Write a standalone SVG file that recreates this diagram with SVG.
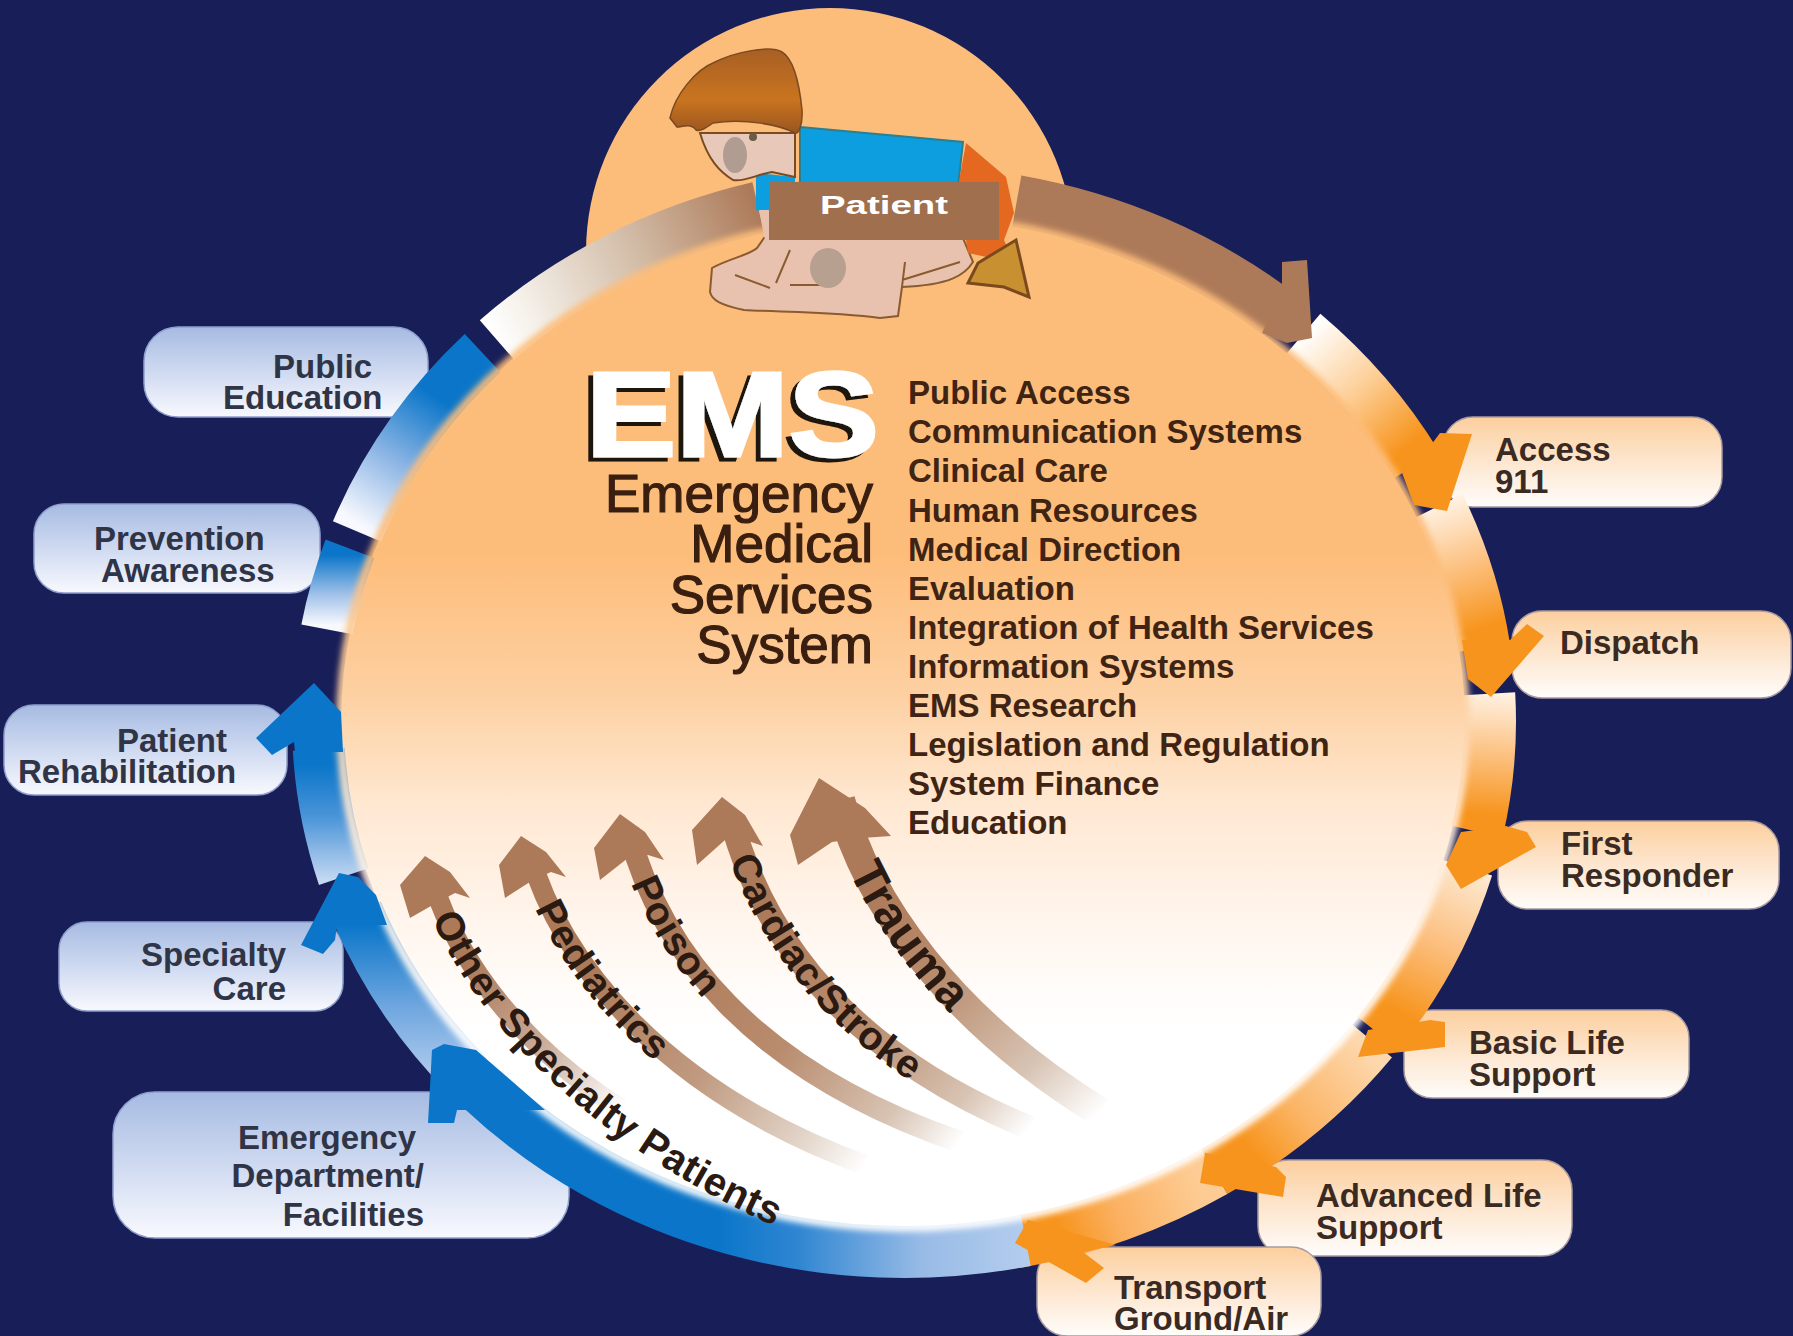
<svg xmlns="http://www.w3.org/2000/svg" width="1793" height="1336" viewBox="0 0 1793 1336">
<style>
text{font-family:"Liberation Sans",Arial,sans-serif;font-weight:bold}
.lb{font-size:33px;fill:#2f3446}
.lo{font-size:33px;fill:#3a2a22}
.li{font-size:33px;fill:#3f2413}
.big{font-size:53px;font-weight:normal;fill:#3a1f10;stroke:#3a1f10;stroke-width:1.2px;text-anchor:end}
.cur{fill:#2a1a12}
.band{fill:none;stroke-width:52}
.shaft{fill:none}
.or{fill:#f7941d}
.bl{fill:#0b76c9}
.br{fill:#ad7a59}
.boxo{fill:url(#boxOrange);stroke:#a89aa0;stroke-width:1.5}
.boxb{fill:url(#boxBlue);stroke:#8f9fcc;stroke-width:1.5}
</style>
<defs>
<filter id="soft" x="-5%" y="-5%" width="110%" height="110%"><feGaussianBlur stdDeviation="3"/></filter>
<filter id="emsShadow" x="-5%" y="-10%" width="110%" height="125%"><feDropShadow dx="-5" dy="4" stdDeviation="0" flood-color="#1a120c"/></filter>
<linearGradient id="boxOrange" x1="0" y1="0" x2="0" y2="1"><stop offset="0" stop-color="#fccf9e"/><stop offset=".5" stop-color="#fde6cf"/><stop offset="1" stop-color="#fffdfb"/></linearGradient>
<linearGradient id="boxBlue" x1="0" y1="0" x2="0" y2="1"><stop offset="0" stop-color="#a6bbe2"/><stop offset=".55" stop-color="#d3ddf2"/><stop offset="1" stop-color="#f8f9fe"/></linearGradient>
<linearGradient id="disk" gradientUnits="userSpaceOnUse" x1="0" y1="220" x2="0" y2="1230"><stop offset="0" stop-color="#fdbd7a"/><stop offset=".33" stop-color="#fdbd7a"/><stop offset=".47" stop-color="#fdd0a2"/><stop offset=".58" stop-color="#ffe8d2"/><stop offset=".7" stop-color="#fff6ee"/><stop offset=".8" stop-color="#fff"/><stop offset="1" stop-color="#fff"/></linearGradient>
<linearGradient id="s1" gradientUnits="userSpaceOnUse" x1="1304" y1="334" x2="1406" y2="448"><stop offset="0" stop-color="#fff"/><stop offset=".5" stop-color="#fdcf98"/><stop offset="1" stop-color="#f7941d"/></linearGradient>
<linearGradient id="s2" gradientUnits="userSpaceOnUse" x1="1439" y1="506" x2="1481" y2="629"><stop offset="0" stop-color="#fff0e0"/><stop offset=".5" stop-color="#fcc180"/><stop offset="1" stop-color="#f7941d"/></linearGradient>
<linearGradient id="s3" gradientUnits="userSpaceOnUse" x1="1489" y1="694" x2="1481" y2="814"><stop offset="0" stop-color="#fff0e0"/><stop offset=".5" stop-color="#fcc180"/><stop offset="1" stop-color="#f7941d"/></linearGradient>
<linearGradient id="s4" gradientUnits="userSpaceOnUse" x1="1467" y1="868" x2="1395" y2="1010"><stop offset="0" stop-color="#fde8d0"/><stop offset=".5" stop-color="#fcc080"/><stop offset="1" stop-color="#f7941d"/></linearGradient>
<linearGradient id="s5" gradientUnits="userSpaceOnUse" x1="1366" y1="1048" x2="1250" y2="1150"><stop offset="0" stop-color="#fdd8ae"/><stop offset=".6" stop-color="#fbb566"/><stop offset="1" stop-color="#f7941d"/></linearGradient>
<linearGradient id="s6" gradientUnits="userSpaceOnUse" x1="1197" y1="1181" x2="1060" y2="1232"><stop offset="0" stop-color="#fdcc94"/><stop offset=".6" stop-color="#fbb060"/><stop offset="1" stop-color="#f7941d"/></linearGradient>
<linearGradient id="b1" gradientUnits="userSpaceOnUse" x1="1030" y1="0" x2="720" y2="0"><stop offset="0" stop-color="#b4cdee"/><stop offset=".35" stop-color="#98bbe6"/><stop offset=".75" stop-color="#2f86d2"/><stop offset="1" stop-color="#0b76c9"/></linearGradient>
<linearGradient id="b2" gradientUnits="userSpaceOnUse" x1="0" y1="1080" x2="0" y2="925"><stop offset="0" stop-color="#b4cdee"/><stop offset=".5" stop-color="#6aa4de"/><stop offset="1" stop-color="#0b76c9"/></linearGradient>
<linearGradient id="b3" gradientUnits="userSpaceOnUse" x1="0" y1="880" x2="0" y2="765"><stop offset="0" stop-color="#c4d8f2"/><stop offset=".55" stop-color="#4a94d8"/><stop offset="1" stop-color="#0b76c9"/></linearGradient>
<linearGradient id="b4" gradientUnits="userSpaceOnUse" x1="0" y1="555" x2="0" y2="625"><stop offset="0" stop-color="#0b76c9"/><stop offset=".55" stop-color="#9dbfe8"/><stop offset="1" stop-color="#f8f9fe"/></linearGradient>
<linearGradient id="b5" gradientUnits="userSpaceOnUse" x1="360" y1="525" x2="440" y2="400"><stop offset="0" stop-color="#f8f9fe"/><stop offset=".5" stop-color="#8ab4e4"/><stop offset="1" stop-color="#0b76c9"/></linearGradient>
<linearGradient id="b6" gradientUnits="userSpaceOnUse" x1="497" y1="340" x2="758" y2="208"><stop offset="0" stop-color="#fff"/><stop offset=".15" stop-color="#f4efe8"/><stop offset=".55" stop-color="#d3bda8"/><stop offset="1" stop-color="#ad7a59"/></linearGradient>
<linearGradient id="f1" gradientUnits="userSpaceOnUse" x1="880" y1="880" x2="1100" y2="1112"><stop offset="0" stop-color="#ad7a59"/><stop offset=".35" stop-color="#b98c6e"/><stop offset=".75" stop-color="#d8c4b4"/><stop offset="1" stop-color="#fff"/></linearGradient>
<linearGradient id="f2" gradientUnits="userSpaceOnUse" x1="770" y1="900" x2="1030" y2="1128"><stop offset="0" stop-color="#ad7a59"/><stop offset=".45" stop-color="#b98c6e"/><stop offset=".8" stop-color="#d8c4b4"/><stop offset="1" stop-color="#fff"/></linearGradient>
<linearGradient id="f3" gradientUnits="userSpaceOnUse" x1="670" y1="930" x2="960" y2="1142"><stop offset="0" stop-color="#ad7a59"/><stop offset=".45" stop-color="#b98c6e"/><stop offset=".8" stop-color="#d8c4b4"/><stop offset="1" stop-color="#fff"/></linearGradient>
<linearGradient id="f4" gradientUnits="userSpaceOnUse" x1="590" y1="970" x2="865" y2="1165"><stop offset="0" stop-color="#ad7a59"/><stop offset=".45" stop-color="#c09a80"/><stop offset=".8" stop-color="#e2d4c8"/><stop offset="1" stop-color="#fff"/></linearGradient>
<linearGradient id="f5" gradientUnits="userSpaceOnUse" x1="470" y1="960" x2="620" y2="1110"><stop offset="0" stop-color="#ad7a59"/><stop offset=".5" stop-color="#c8a894"/><stop offset="1" stop-color="#fff"/></linearGradient>
<linearGradient id="hair" x1="0" y1="0" x2="0" y2="1"><stop offset="0" stop-color="#a85f24"/><stop offset=".6" stop-color="#c9741f"/><stop offset="1" stop-color="#9a5520"/></linearGradient>
<path id="pT" d="M840 800C865 900 950 1020 1100 1112"/>
<path id="pC" d="M730 815C760 930 840 1050 1030 1128"/>
<path id="pP" d="M628 830C660 950 750 1070 960 1142"/>
<path id="pD" d="M530 855C560 960 660 1090 865 1165"/>
<path id="pO" d="M432 880C460 970 560 1120 800 1222"/>
</defs>

<rect width="1793" height="1336" fill="#181e58"/>

<g id="node-access"><rect class="boxo" x="1443" y="417" width="279" height="90" rx="30"/><text class="lo" x="1495" y="461">Access</text><text class="lo" x="1495" y="493">911</text></g>
<g id="node-dispatch"><rect class="boxo" x="1512" y="611" width="279" height="87" rx="30"/><text class="lo" x="1560" y="654">Dispatch</text></g>
<g id="node-first-responder"><rect class="boxo" x="1498" y="821" width="281" height="88" rx="30"/><text class="lo" x="1561" y="855">First</text><text class="lo" x="1561" y="887">Responder</text></g>
<g id="node-basic-life"><rect class="boxo" x="1404" y="1010" width="285" height="88" rx="28"/><text class="lo" x="1469" y="1054">Basic Life</text><text class="lo" x="1469" y="1086">Support</text></g>
<g id="node-advanced-life"><rect class="boxo" x="1258" y="1160" width="314" height="96" rx="30"/><text class="lo" x="1316" y="1207">Advanced Life</text><text class="lo" x="1316" y="1239">Support</text></g>
<g id="node-transport"><rect class="boxo" x="1037" y="1247" width="284" height="89" rx="30"/><text class="lo" x="1114" y="1299">Transport</text><text class="lo" x="1114" y="1330">Ground/Air</text></g>
<g id="node-public-education"><rect class="boxb" x="144" y="327" width="284" height="90" rx="34"/><text class="lb" x="273" y="378">Public</text><text class="lb" x="223" y="409">Education</text></g>
<g id="node-prevention"><rect class="boxb" x="34" y="504" width="286" height="89" rx="30"/><text class="lb" x="94" y="550">Prevention</text><text class="lb" x="101" y="582">Awareness</text></g>
<g id="node-rehabilitation"><rect class="boxb" x="4" y="705" width="283" height="90" rx="30"/><text class="lb" x="117" y="752">Patient</text><text class="lb" x="18" y="783">Rehabilitation</text></g>
<g id="node-specialty-care"><rect class="boxb" x="59" y="922" width="284" height="89" rx="28"/><text class="lb" x="286" y="966" text-anchor="end">Specialty</text><text class="lb" x="286" y="1000" text-anchor="end">Care</text></g>
<g id="node-emergency"><rect class="boxb" x="113" y="1092" width="456" height="146" rx="42"/><text class="lb" x="416" y="1149" text-anchor="end">Emergency</text><text class="lb" x="424" y="1187" text-anchor="end">Department/</text><text class="lb" x="424" y="1226" text-anchor="end">Facilities</text></g>

<g id="disk-group">
<circle cx="830" cy="252" r="244" fill="#fdbd7a"/>
<ellipse cx="903" cy="722" rx="562" ry="505" fill="url(#disk)"/>
</g>

<g id="connectors">
<path class="band" stroke="url(#s1)" d="M1303.6 333.5A586 530.5 0 0 1 1416.5 464.3"/>
<path class="band" stroke="url(#s2)" d="M1439.3 505.7A586 530.5 0 0 1 1484.3 647.7"/>
<path class="band" stroke="url(#s3)" d="M1489.2 693.7A586 530.5 0 0 1 1477.2 831.8"/>
<path class="band" stroke="url(#s4)" d="M1467.3 867.7A586 530.5 0 0 1 1378.1 1033.3"/>
<path class="band" stroke="url(#s5)" d="M1372 1040.8A586 530.5 0 0 1 1214.5 1171.4"/>
<path class="band" stroke="url(#s6)" d="M1214.5 1171.4A586 530.5 0 0 1 1015.8 1242.3"/>
<path class="band" stroke="url(#b1)" d="M1025.8 1240.4A586 530.5 0 0 1 482.5 1090"/>
<path class="band" stroke="url(#b2)" d="M468.5 1076.5A586 530.5 0 0 1 356.9 911.6"/>
<path class="band" stroke="url(#b3)" d="M343.6 876.6A586 530.5 0 0 1 318.8 749.2"/>
<path class="band" stroke="url(#b5)" d="M356.9 531.4A586 530.5 0 0 1 482.5 353"/>
<path class="band" stroke="url(#b4)" d="M326.9 629.4A586 530.5 0 0 1 349.9 548.8"/>
<path class="band" stroke="url(#b6)" d="M496.9 339.9A586 530.5 0 0 1 758.3 207.7"/>
<path class="band" stroke="#ad7a59" d="M1016.8 201A586 530.5 0 0 1 1280.7 315.1"/>
<ellipse cx="903" cy="722" rx="562" ry="505" fill="none" stroke="url(#disk)" stroke-width="9" filter="url(#soft)"/>
<polygon class="br" points="1282,262 1307,260 1312,338 1287,343 1262,333 1282,290"/>
<polygon class="or" points="1401,470 1431,445 1440,433 1472,434 1447,511 1414,505"/>
<polygon class="or" points="1462,640 1510,640 1527,624 1544,636 1491,697 1468,679"/>
<polygon class="or" points="1461,832 1506,826 1527,832 1536,847 1461,889 1446,865"/>
<polygon class="or" points="1368,1030 1430,1020 1445,1022 1445,1047 1358,1057"/>
<polygon class="or" points="1205,1153 1276,1167 1286,1177 1283,1197 1200,1183"/>
<polygon class="or" points="1028,1220 1116,1245 1083,1252 1104,1268 1086,1283 1015,1243"/>
<polygon class="bl" points="444,1044 476,1050 545,1110 457,1110 454,1123 428,1123 432,1050"/>
<polygon class="bl" points="339,873 358,877 376,895 387,925 337,925 335,940 323,954 301,945"/>
<polygon class="bl" points="314,683 341,712 343,752 295,752 294,742 272,755 256,738"/>
<path class="shaft" stroke="url(#f1)" stroke-width="30" d="M840 800C865 900 950 1020 1100 1112"/>
<path class="shaft" stroke="url(#f2)" stroke-width="24" d="M730 815C760 930 840 1050 1030 1128"/>
<path class="shaft" stroke="url(#f3)" stroke-width="22" d="M628 830C660 950 750 1070 960 1142"/>
<path class="shaft" stroke="url(#f4)" stroke-width="20" d="M530 855C560 960 660 1090 865 1165"/>
<path class="shaft" stroke="url(#f5)" stroke-width="20" d="M432 880C460 970 540 1080 700 1150"/>
<polygon class="br" points="819,778 865,808 891,836 862,838 832,842 798,865 790,835"/>
<polygon class="br" points="722,797 745,815 763,846 745,840 725,840 697,865 692,830"/>
<polygon class="br" points="620,814 645,832 664,860 648,855 628,858 600,880 594,848"/>
<polygon class="br" points="521,836 546,852 566,877 551,872 533,880 505,898 499,865"/>
<polygon class="br" points="425,856 450,872 470,898 455,893 438,902 410,918 400,885"/>
<text class="cur" font-size="48" dy="16"><textPath href="#pT" startOffset="68">Trauma</textPath></text>
<text class="cur" font-size="40" dy="14"><textPath href="#pC" startOffset="42">Cardiac/Stroke</textPath></text>
<text class="cur" font-size="40" dy="14"><textPath href="#pP" startOffset="50">Poison</textPath></text>
<text class="cur" font-size="40" dy="14"><textPath href="#pD" startOffset="50">Pediatrics</textPath></text>
<text class="cur" font-size="40" dy="14"><textPath href="#pO" startOffset="35">Other Specialty Patients</textPath></text>
</g>

<g id="patient-figure">
<path d="M712 268C730 258 750 255 757 248L764 238H963L973 262C965 275 950 285 902 287L898 316 880 318C840 312 780 312 744 310 720 305 712 300 710 292Z" fill="#e8c2ae" stroke="#8a5a30" stroke-width="2"/>
<path d="M790 250 776 283M822 262 830 285 790 285M902 287 905 262M902 280 960 262M735 275 770 288" fill="none" stroke="#8a5a30" stroke-width="2"/>
<ellipse cx="828" cy="268" rx="18" ry="20" fill="#b8a090"/>
<path d="M800 127 963 142 958 187H800Z" fill="#0d9ee0" stroke="#2a7f90" stroke-width="2"/>
<path d="M756 173 795 177 795 215 772 215 756 210Z" fill="#0d9ee0"/>
<path d="M759 210H772L775 240H765Z" fill="#e8c2ae"/>
<path d="M700 133H795V177L772 172C755 175 745 182 733 180 720 172 708 160 700 133Z" fill="#e8c8b8" stroke="#7a4a20" stroke-width="2"/>
<ellipse cx="735" cy="155" rx="12" ry="18" fill="#b09c90"/>
<circle cx="753" cy="137" r="4" fill="#6a5a4a"/>
<path d="M670 118C675 95 695 70 715 62 735 52 770 45 782 52 795 60 800 90 802 110 803 125 798 135 795 133 780 125 745 118 713 123 706 128 700 132 696 130 690 122 680 128 677 127Z" fill="url(#hair)" stroke="#7a4a20" stroke-width="1.5"/>
<path d="M966 143 1006 177 1014 213 1004 240 1014 263 968 253 958 187Z" fill="#e4681f"/>
<path d="M978 263 1016 240 1029 297 1004 287 968 283Z" fill="#c89030" stroke="#7a4a1e" stroke-width="3"/>
</g>

<g id="node-patient">
<rect x="769" y="182" width="230" height="58" fill="#a06f4e"/>
<text x="820" y="214" font-size="26" fill="#fff" textLength="128" lengthAdjust="spacingAndGlyphs">Patient</text>
</g>

<g id="title">
<text x="586" y="456" font-size="120" fill="#fff" stroke="#fff" stroke-width="3" textLength="293" lengthAdjust="spacingAndGlyphs" filter="url(#emsShadow)">EMS</text>
<text class="big" x="873" y="512">Emergency</text>
<text class="big" x="873" y="562">Medical</text>
<text class="big" x="873" y="613">Services</text>
<text class="big" x="873" y="663">System</text>
</g>

<g id="components">
<text class="li" x="908" y="404">Public Access</text>
<text class="li" x="908" y="443">Communication Systems</text>
<text class="li" x="908" y="482">Clinical Care</text>
<text class="li" x="908" y="522">Human Resources</text>
<text class="li" x="908" y="561">Medical Direction</text>
<text class="li" x="908" y="600">Evaluation</text>
<text class="li" x="908" y="639">Integration of Health Services</text>
<text class="li" x="908" y="678">Information Systems</text>
<text class="li" x="908" y="717">EMS Research</text>
<text class="li" x="908" y="756">Legislation and Regulation</text>
<text class="li" x="908" y="795">System Finance</text>
<text class="li" x="908" y="834">Education</text>
</g>
</svg>
